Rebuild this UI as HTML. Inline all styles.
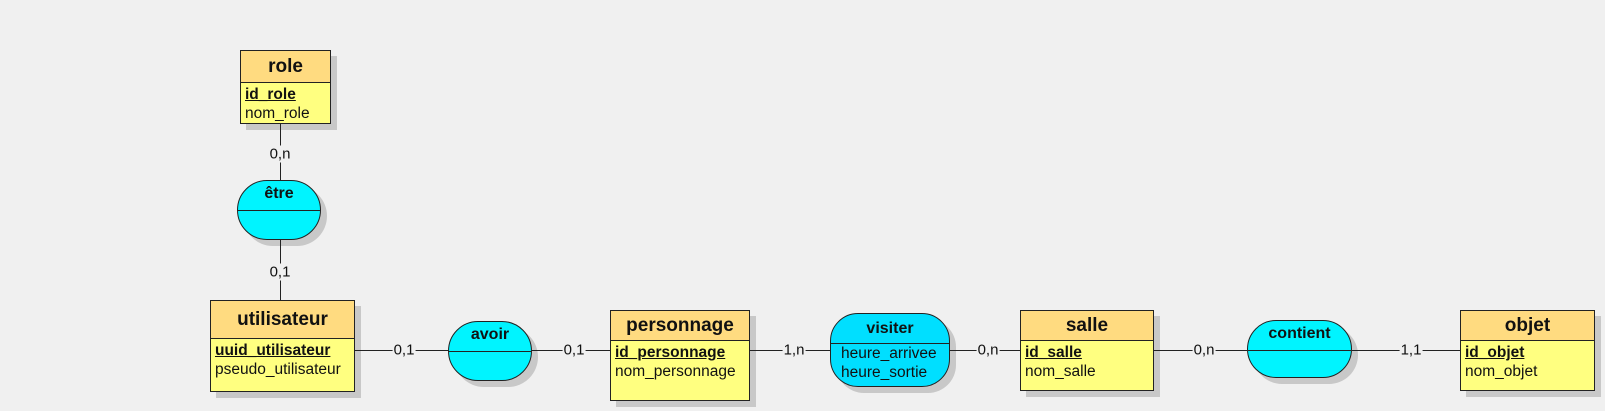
<!DOCTYPE html>
<html><head><meta charset="utf-8"><style>
body{margin:0;width:1605px;height:411px;background:#f0f0f0;position:relative;overflow:hidden;font-family:"Liberation Sans",sans-serif;color:#111}
.e{position:absolute;background:#ffff80;border:1px solid #222;box-shadow:6px 6px 0 #c8c8c8;box-sizing:border-box}
.e .h{background:#ffdb80;border-bottom:1px solid #222;text-align:center;font-weight:bold;font-size:19px;box-sizing:border-box}
.e .b{padding:2px 4px;font-size:15.5px;line-height:19px}
.e u{font-weight:bold}
.a{position:absolute;background:#00f4ff;border:1px solid #222;box-shadow:6px 6px 0 #c8c8c8;box-sizing:border-box;border-radius:30px;overflow:hidden}
.a .h{text-align:center;font-weight:bold;font-size:16px;border-bottom:1px solid #222;box-sizing:border-box}
.a .b{text-align:left;padding-left:10px;font-size:15.5px;line-height:19px}
.l{position:absolute;background:#222;z-index:5}
.t{position:absolute;font-size:15px;background:#f0f0f0;padding:0 1px;transform:translate(-50%,-50%);z-index:6}
</style></head><body>
<div class="l" style="left:280px;top:124px;width:1px;height:56px"></div>
<div class="l" style="left:280px;top:240px;width:1px;height:60px"></div>
<div class="l" style="left:355px;top:350px;width:93px;height:1px"></div>
<div class="l" style="left:532px;top:350px;width:78px;height:1px"></div>
<div class="l" style="left:750px;top:350px;width:80px;height:1px"></div>
<div class="l" style="left:950px;top:350px;width:70px;height:1px"></div>
<div class="l" style="left:1154px;top:350px;width:93px;height:1px"></div>
<div class="l" style="left:1352px;top:350px;width:108px;height:1px"></div>
<div class="t" style="left:280px;top:154px">0,n</div>
<div class="t" style="left:280px;top:272px">0,1</div>
<div class="t" style="left:404px;top:350px">0,1</div>
<div class="t" style="left:574px;top:350px">0,1</div>
<div class="t" style="left:794px;top:350px">1,n</div>
<div class="t" style="left:988px;top:350px">0,n</div>
<div class="t" style="left:1204px;top:350px">0,n</div>
<div class="t" style="left:1411px;top:350px">1,1</div>

<div class="e" style="left:240px;top:50px;width:91px;height:74px"><div class="h" style="height:32px;line-height:31px">role</div><div class="b"><u>id_role</u><br>nom_role</div></div>
<div class="a" style="left:237px;top:180px;width:84px;height:60px"><div class="h" style="height:30px;line-height:26px">être</div></div>
<div class="e" style="left:210px;top:300px;width:145px;height:92px"><div class="h" style="height:38px;line-height:37px">utilisateur</div><div class="b"><u>uuid_utilisateur</u><br>pseudo_utilisateur</div></div>
<div class="a" style="left:448px;top:321px;width:84px;height:60px"><div class="h" style="height:30px;line-height:26px">avoir</div></div>
<div class="e" style="left:610px;top:310px;width:140px;height:91px"><div class="h" style="height:30px;line-height:29px">personnage</div><div class="b"><u>id_personnage</u><br>nom_personnage</div></div>
<div class="a" style="left:830px;top:313px;width:120px;height:74px;border-radius:28px;background:#00dfff"><div class="h" style="height:30px;line-height:30px">visiter</div><div class="b">heure_arrivee<br>heure_sortie</div></div>
<div class="e" style="left:1020px;top:310px;width:134px;height:81px"><div class="h" style="height:30px;line-height:29px">salle</div><div class="b"><u>id_salle</u><br>nom_salle</div></div>
<div class="a" style="left:1247px;top:320px;width:105px;height:58px"><div class="h" style="height:30px;line-height:26px">contient</div></div>
<div class="e" style="left:1460px;top:310px;width:135px;height:81px"><div class="h" style="height:30px;line-height:29px">objet</div><div class="b"><u>id_objet</u><br>nom_objet</div></div>
</body></html>
